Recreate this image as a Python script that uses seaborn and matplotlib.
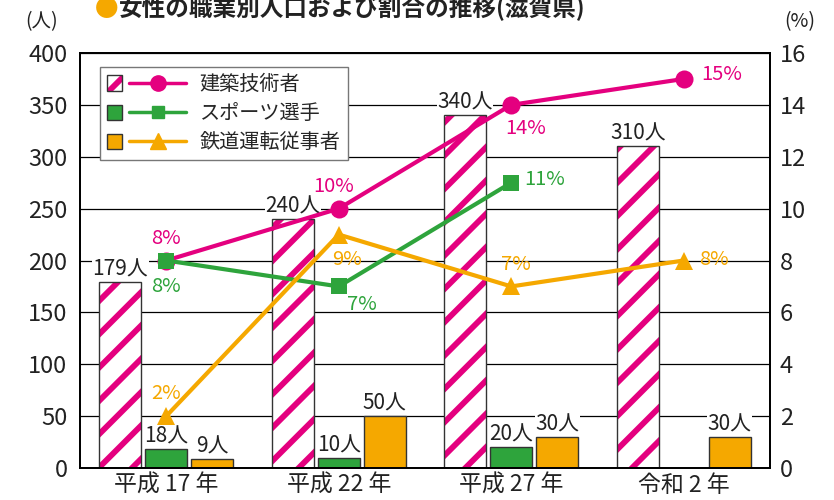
import seaborn as sns
import matplotlib
matplotlib.use('Agg')
import matplotlib.pyplot as plt
from matplotlib.colors import to_rgba
from matplotlib.legend_handler import HandlerBase
from matplotlib.patches import Rectangle
from matplotlib.lines import Line2D
import numpy as np
import pandas as pd


years = ['平成 17 年', '平成 22 年', '平成 27 年', '令和 2 年']
jobs = ['建築技術者', 'スポーツ選手', '鉄道運転従事者']

# people (人)
kenchiku_n = [179, 240, 340, 310]
sports_n = [18, 10, 20, np.nan]
tetsudo_n = [9, 50, 30, 30]

# share (%)
kenchiku_pct = [8, 10, 14, 15]
sports_pct = [8, 7, 11, np.nan]
tetsudo_pct = [2, 9, 7, 8]

PINK = '#E4007F'
GREEN = '#2EA43C'
ORANGE = '#F5A800'
EDGE = '#333333'
TXT = '#222222'

colors = [PINK, GREEN, ORANGE]
markers = ['o', 's', '^']

# label offsets in points (dx, dy) for the % labels
pct_offsets = [
    [(0, 16), (-4, 16), (10, -17), (27, 3)],
    [(0, -19), (17, -13), (24, 2), None],
    [(0, 16), (6, -18), (3, 16), (22, 1)],
]


class BarLineHandler(HandlerBase):
    """square swatch + line with a marker in the middle"""

    def create_artists(self, legend, orig_handle, xdescent, ydescent,
                       width, height, fontsize, trans):
        color, marker, hatched = orig_handle
        s = height * 0.85
        x0 = -xdescent
        y0 = -ydescent + (height - s) / 2
        if hatched:
            r = Rectangle((x0, y0), s, s, facecolor='white',
                          edgecolor=EDGE, lw=1, hatch='/', transform=trans)
            set_hatch(r, color)
        else:
            r = Rectangle((x0, y0), s, s, facecolor=color,
                          edgecolor=EDGE, lw=1, transform=trans)
        lx0 = x0 + s + 0.35 * fontsize
        lx1 = x0 + width
        ym = -ydescent + height / 2
        ln = Line2D([lx0, lx1], [ym, ym], color=color, lw=2.5,
                    transform=trans)
        mk = Line2D([(lx0 + lx1) / 2], [ym], color=color, marker=marker,
                    ms=11 if marker != 's' else 9, lw=0, transform=trans)
        return [r, ln, mk]


def set_hatch(p, color):
    if hasattr(p, 'set_hatchcolor'):
        p.set_hatchcolor(color)
    else:
        p._hatch_color = to_rgba(color)


sns.set_style('white')
plt.rcParams['font.family'] = ['Noto Sans CJK JP', 'DejaVu Sans']
plt.rcParams['hatch.linewidth'] = 4.2

df = pd.DataFrame({
    'year': years * 3,
    'job': [jobs[0]] * 4 + [jobs[1]] * 4 + [jobs[2]] * 4,
    'count': kenchiku_n + sports_n + tetsudo_n,
    'pct': kenchiku_pct + sports_pct + tetsudo_pct,
})
df['x'] = [0, 1, 2, 3] * 3

fig = plt.figure(figsize=(8.34, 5.0), dpi=100)
ax = fig.add_axes([80 / 834, 1 - 468 / 500, 690 / 834, 415 / 500])

sns.barplot(data=df, x='year', y='count', hue='job', order=years,
            hue_order=jobs, palette=colors, width=0.8, gap=0.09,
            edgecolor=EDGE, linewidth=1, errorbar=None, legend=False,
            saturation=1, ax=ax)

# pink bars: white with pink stripes
for p in ax.containers[0]:
    p.set_facecolor('white')
    p.set_edgecolor(EDGE)
    p.set_hatch('/')
    set_hatch(p, PINK)

for cont in ax.containers:
    ax.bar_label(cont, fmt='{:.0f}人', padding=1, fontsize=15, color=TXT,
                 bbox=dict(facecolor='white', edgecolor='none', pad=0.3))

ax.set_ylim(0, 400)
ax.set_yticks(range(0, 401, 50))
ax.set_axisbelow(True)
ax.yaxis.grid(True, color='black', lw=0.9)
ax.set_xlabel('')
ax.set_ylabel('')
ax.tick_params(axis='y', length=0, labelsize=17, pad=9, labelcolor=TXT)
ax.tick_params(axis='x', which='major', length=0, labelsize=16.5, pad=4,
               labelcolor=TXT)
ax.set_xticks([0.5, 1.5, 2.5], minor=True)
ax.tick_params(axis='x', which='minor', direction='in', length=9, width=1.5,
               color='black')
for sp in ax.spines.values():
    sp.set_color('black')
    sp.set_linewidth(1.3)

# percentages on the right axis
ax2 = ax.twinx()
for i, job in enumerate(jobs):
    sub = df[df['job'] == job]
    sns.lineplot(data=sub, x='x', y='pct', color=colors[i], lw=3,
                 marker=markers[i], markersize=13 if markers[i] != 's' else 11,
                 markeredgewidth=0, legend=False, ax=ax2, zorder=5)
    for j, (xv, yv) in enumerate(zip(sub['x'], sub['pct'])):
        if np.isnan(yv):
            continue
        ax2.annotate(f'{yv:.0f}%', (xv, yv), xytext=pct_offsets[i][j],
                     textcoords='offset points', ha='center', va='center',
                     fontsize=14.5, color=colors[i])

ax2.set_ylim(0, 16)
ax2.set_yticks(range(0, 17, 2))
ax2.set_ylabel('')
ax2.set_xlabel('')
ax2.tick_params(axis='y', length=0, labelsize=17, pad=7, labelcolor=TXT)
ax.set_xlim(-0.5, 3.5)
for sp in ax2.spines.values():
    sp.set_color('black')
    sp.set_linewidth(1.3)

handles = [(PINK, 'o', True), (GREEN, 's', False), (ORANGE, '^', False)]
ax2.legend(handles, jobs, handler_map={tuple: BarLineHandler()},
           loc='upper left', bbox_to_anchor=(20 / 690, 1 - 14 / 415),
           borderaxespad=0, fontsize=14.5, handlelength=3.9, handleheight=1.0,
           labelspacing=0.4, borderpad=0.35, handletextpad=0.7,
           fancybox=False, framealpha=1, edgecolor='#777777')

fig.text(42 / 834, 1 - 22 / 500, '(人)', ha='center', va='center',
         fontsize=14, color=TXT)
fig.text(800 / 834, 1 - 22 / 500, '(%)', ha='center', va='center',
         fontsize=14, color=TXT)

fig.text(107 / 834, 1 - 9 / 500, '●', ha='center', va='center',
         fontsize=17, color=ORANGE)
fig.text(119 / 834, 1 - 16 / 500, '女性の職業別人口および割合の推移(滋賀県)',
         ha='left', va='baseline', fontsize=17, fontweight='bold',
         color=TXT)

fig.savefig('out.png', dpi=100)
